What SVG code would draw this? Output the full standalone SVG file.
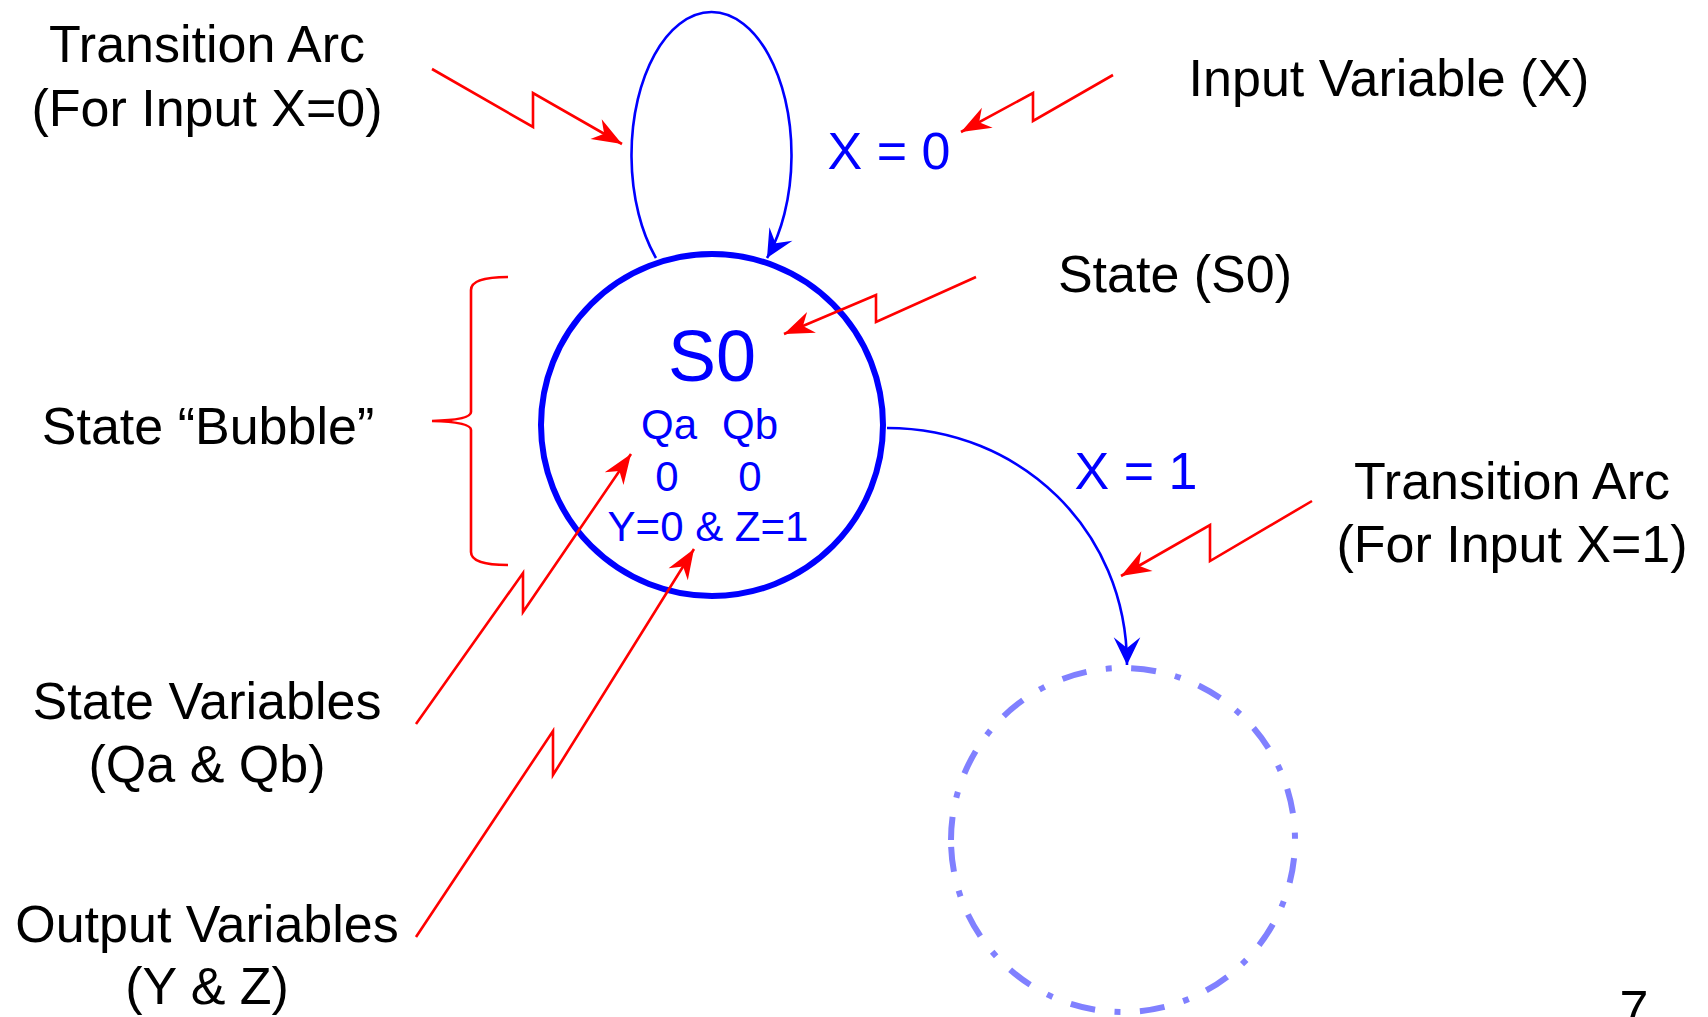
<svg xmlns="http://www.w3.org/2000/svg" width="1708" height="1017" viewBox="0 0 1708 1017">
<style>
.lbl{font-family:"Liberation Sans",Arial,sans-serif;font-size:52px;fill:#000;text-anchor:middle}
.blu{font-family:"Liberation Sans",Arial,sans-serif;fill:#0000FF;text-anchor:middle}
.red{fill:none;stroke:#FF0000;stroke-width:2.6;stroke-linejoin:miter}
.arc{fill:none;stroke:#0000FF;stroke-width:2.6}
</style>
<defs>
<marker id="ahBlue" markerUnits="userSpaceOnUse" markerWidth="32" markerHeight="32" viewBox="-28 -15 30 30" refX="0" refY="0" orient="auto">
<path d="M0,0 L-26,-12.5 L-16,0 L-26,12.5 Z" fill="#0000FF"/>
</marker>
<marker id="ahRed" markerUnits="userSpaceOnUse" markerWidth="34" markerHeight="28" viewBox="-31 -13 33 26" refX="0" refY="0" orient="auto">
<path d="M0,0 L-29,-11 L-20,0 L-29,11 Z" fill="#FF0000"/>
</marker>
</defs>
<rect width="1708" height="1017" fill="#FFFFFF"/>

<g id="state-S0">
<circle cx="712" cy="425" r="171" fill="none" stroke="#0000FF" stroke-width="6"/>
<text class="blu" x="712" y="381" font-size="72">S0</text>
<text class="blu" x="669" y="439" font-size="42">Qa</text>
<text class="blu" x="750" y="439" font-size="42">Qb</text>
<text class="blu" x="667" y="491" font-size="42">0</text>
<text class="blu" x="750" y="491" font-size="42">0</text>
<text class="blu" x="708" y="541" font-size="42">Y=0 &amp; Z=1</text>
</g>

<g id="state-next">
<path d="M951,840 A172,172 0 0 0 1295,840 A172,172 0 0 0 951,840" fill="none" stroke="#8080FF" stroke-width="6" stroke-dasharray="25 19.5 6 19.5" stroke-dashoffset="63"/>
</g>

<g id="label-x0">
<text class="blu" x="889" y="169" font-size="52">X = 0</text>
</g>
<g id="label-x1">
<text class="blu" x="1136" y="489" font-size="52">X = 1</text>
</g>

<g id="note-transition-arc-0">
<text class="lbl" x="207" y="62">Transition Arc</text>
<text class="lbl" x="207" y="126">(For Input X=0)</text>
</g>
<g id="note-input-variable">
<text class="lbl" x="1389" y="96">Input Variable (X)</text>
</g>
<g id="note-state">
<text class="lbl" x="1175" y="292">State (S0)</text>
</g>
<g id="note-bubble">
<text class="lbl" x="208" y="444">State “Bubble”</text>
</g>
<g id="note-state-variables">
<text class="lbl" x="207" y="719">State Variables</text>
<text class="lbl" x="207" y="782">(Qa &amp; Qb)</text>
</g>
<g id="note-output-variables">
<text class="lbl" x="207" y="942">Output Variables</text>
<text class="lbl" x="207" y="1004">(Y &amp; Z)</text>
</g>
<g id="note-transition-arc-1">
<text class="lbl" x="1512" y="499">Transition Arc</text>
<text class="lbl" x="1512" y="562">(For Input X=1)</text>
</g>
<g id="page-number">
<text class="lbl" x="1634" y="1027" font-size="36">7</text>
</g>

<g id="connectors">
<path class="arc" d="M656,258 A80,143 0 1 1 767,258" marker-end="url(#ahBlue)"/>
<path class="arc" d="M887,428 C1020,428 1127,530 1127,665" marker-end="url(#ahBlue)"/>
<polyline class="red" points="432,69 533,127 533,93 622,144" marker-end="url(#ahRed)"/>
<polyline class="red" points="1113,75 1033,121 1033,93 961,132" marker-end="url(#ahRed)"/>
<polyline class="red" points="976,277 876,322 876,295 784,334" marker-end="url(#ahRed)"/>
<polyline class="red" points="1312,501 1210,561 1210,525 1121,576" marker-end="url(#ahRed)"/>
<polyline class="red" points="416,724 523,573 523,612 631,454" marker-end="url(#ahRed)"/>
<polyline class="red" points="416,937 553,731 553,775 694,549" marker-end="url(#ahRed)"/>
<path class="red" d="M508,277 Q471,277 471,290 L471,412 Q471,420 432,421 Q471,422 471,430 L471,552 Q471,565 508,565"/>
</g>
</svg>
